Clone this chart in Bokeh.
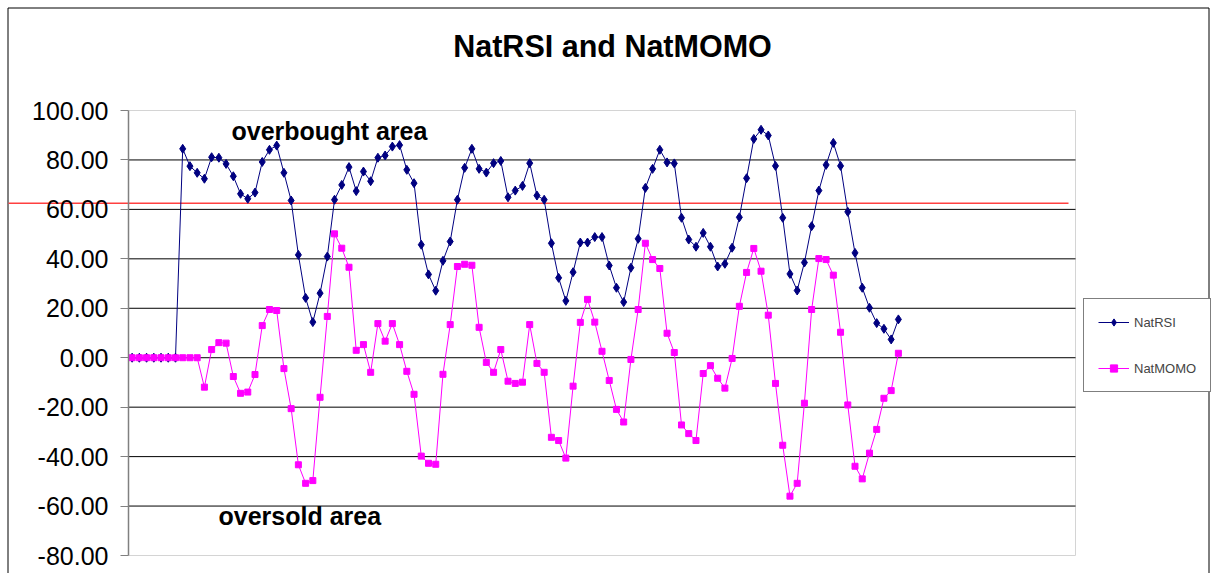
from bokeh.plotting import figure
from bokeh.models import (Range1d, FixedTicker, NumeralTickFormatter, Label, Legend,
                          LinearAxis)
from bokeh.embed import file_html
from bokeh.resources import INLINE

# ---- data ----
nat_rsi = [0, 0, 0, 0, 0, 0, 0,
           84.5, 77.5, 74.8, 72.4, 81.1, 80.9, 78.4, 73.4, 66.3, 64.3,
           66.8, 79.2, 84.1, 85.8, 74.8, 63.6, 41.6, 24.2, 14.4, 26.1,
           40.9, 63.9, 69.9, 77.1, 67.4, 75.3, 71.4, 80.9, 81.8, 85.4,
           86.0, 76.0, 70.6, 45.7, 33.7, 27.1, 39.2, 47.0, 63.9, 76.8,
           84.5, 76.4, 74.9, 78.7, 79.6, 64.9, 67.6, 69.5, 78.7, 65.6,
           63.9, 46.3, 32.3, 23.0, 34.6, 46.6, 46.6, 48.8, 48.8, 37.3,
           28.3, 22.5, 36.4, 48.1, 68.7, 76.4, 84.1, 79.0, 78.6, 56.6,
           47.8, 44.9, 50.5, 44.9, 36.9, 38.0, 44.5, 56.8, 72.6, 88.5,
           92.2, 89.9, 77.6, 56.6, 33.9, 27.2, 38.5, 53.2, 67.6, 78.0,
           86.9, 77.6, 59.0, 42.4, 28.3, 20.2, 14.0, 11.7, 7.4, 15.5]

nat_momo = [0, 0, 0, 0, 0, 0, 0, 0, 0, 0,
            -11.9, 3.3, 6.1, 5.9, -7.6, -14.4, -13.9, -6.8, 13.0, 19.5,
            19.1, -4.4, -20.6, -43.3, -50.8, -49.7, -16.0, 16.7, 50.1, 44.3,
            36.6, 3.0, 5.3, -5.9, 13.8, 6.7, 13.8, 5.3, -5.5, -14.8,
            -39.8, -42.7, -43.1, -6.7, 13.4, 36.9, 37.8, 37.4, 12.3, -1.9,
            -5.9, 3.3, -9.5, -10.4, -9.9, 13.4, -2.3, -5.9, -32.2, -33.5,
            -40.6, -11.5, 14.3, 23.6, 14.4, 2.6, -9.2, -20.9, -26.0, -0.7,
            19.5, 46.3, 39.7, 36.1, 9.9, 2.1, -27.2, -30.7, -33.5, -6.4,
            -3.2, -8.3, -12.3, -0.3, 20.8, 34.5, 44.2, 35.0, 17.2, -10.4,
            -35.4, -56.0, -50.8, -18.4, 19.5, 40.1, 39.7, 33.4, 10.3, -19.1,
            -43.9, -49.0, -38.6, -29.0, -16.4, -13.3, 1.8]

n_categories = 131
y_min, y_max = -80, 100
overbought_level = 62.5
y_ticks = [-80, -60, -40, -20, 0, 20, 40, 60, 80, 100]
grid_ticks = [-60, -40, -20, 0, 20, 40, 60, 80]

title_text = "NatRSI and NatMOMO"
overbought_text = "overbought area"
oversold_text = "oversold area"
series_names = ["NatRSI", "NatMOMO"]

# ---- layout (pixels on the canvas) ----
W, H = 1215, 573
PL, PR, PT, PB = 128, 1075, 110, 555      # plot area edges
XS = (PR - PL) / n_categories
YS = (PB - PT) / (y_max - y_min)


def px_x(px):
    return -0.5 + (px - PL) / XS


def px_y(py):
    return y_max - (py - PT) / YS


FONT = "Liberation Sans"
x = list(range(len(nat_rsi)))
x_lo, x_hi = -0.5, n_categories - 0.5

p = figure(width=W, height=H, output_backend="svg", toolbar_location=None,
           x_range=Range1d(px_x(0), px_x(W)), y_range=Range1d(px_y(H), px_y(0)),
           x_axis_location=None, y_axis_location=None, title=None,
           min_border=0, min_border_left=0, min_border_right=0,
           min_border_top=0, min_border_bottom=0)
for g in p.grid:
    g.visible = False
p.background_fill_color = "white"
p.border_fill_color = "white"
p.outline_line_color = None

# outer chart border (top, left, right)
bx0, bx1, by0 = px_x(7.5), px_x(1208.5), px_y(7.5)
p.segment(x0=[bx0, bx0, bx1], y0=[by0, by0, by0],
          x1=[bx1, bx0, bx1], y1=[by0, px_y(H + 5), px_y(H + 5)],
          line_color="black", line_width=1)

# plot area outline
p.segment(x0=[x_lo, x_lo, x_hi], y0=[y_max, y_min, y_min],
          x1=[x_hi, x_hi, x_hi], y1=[y_max, y_min, y_max],
          line_color="#d4d4d4", line_width=1)

# horizontal gridlines inside the plot area
p.segment(x0=[x_lo] * len(grid_ticks), y0=grid_ticks,
          x1=[x_hi] * len(grid_ticks), y1=grid_ticks,
          line_color="black", line_width=1)

ax = LinearAxis(fixed_location=x_lo, bounds=(y_min, y_max),
                ticker=FixedTicker(ticks=y_ticks),
                formatter=NumeralTickFormatter(format="0.00"))
ax.major_label_text_font = FONT
ax.major_label_text_font_size = "25px"
ax.major_label_text_color = "black"
ax.axis_line_color = "#808080"
ax.axis_line_width = 1.5
ax.major_tick_line_color = "#808080"
ax.major_tick_in = 0
ax.major_tick_out = 8
ax.minor_tick_line_color = None
ax.major_label_standoff = 12
p.add_layout(ax, "left")

# overbought reference line
p.segment(x0=[px_x(8)], y0=[overbought_level], x1=[px_x(1068)], y1=[overbought_level],
          line_color="#ff4040", line_width=1.5)

r1 = p.line(x, nat_rsi, line_color="#000080", line_width=1)
r2 = p.scatter(x, nat_rsi, marker="diamond", size=9, fill_color="#000080", line_color="#000080")
r3 = p.line(x, nat_momo, line_color="#ff00ff", line_width=1)
r4 = p.scatter(x, nat_momo, marker="square", size=6, fill_color="#ff00ff", line_color="#ff00ff")

legend = Legend(items=[(series_names[0], [r1, r2]), (series_names[1], [r3, r4])],
                location=(1083, H - 392), orientation="vertical",
                label_text_font=FONT, label_text_font_size="13px",
                glyph_width=31, glyph_height=18, spacing=28, padding=14,
                label_standoff=5, margin=0,
                border_line_color="black", border_line_width=1,
                background_fill_color="white", background_fill_alpha=1)
p.add_layout(legend, "center")

p.add_layout(Label(x=px_x(612), y=px_y(45), text=title_text, text_font=FONT,
                   text_font_size="30.5px", text_font_style="bold", text_color="black",
                   text_align="center", text_baseline="middle"))
p.add_layout(Label(x=px_x(231), y=px_y(130), text=overbought_text, text_font=FONT,
                   text_font_size="25px", text_font_style="bold", text_color="black",
                   text_align="left", text_baseline="middle"))
p.add_layout(Label(x=px_x(218), y=px_y(515), text=oversold_text, text_font=FONT,
                   text_font_size="25px", text_font_style="bold", text_color="black",
                   text_align="left", text_baseline="middle"))

open("out.html", "w").write(file_html(p, INLINE))
